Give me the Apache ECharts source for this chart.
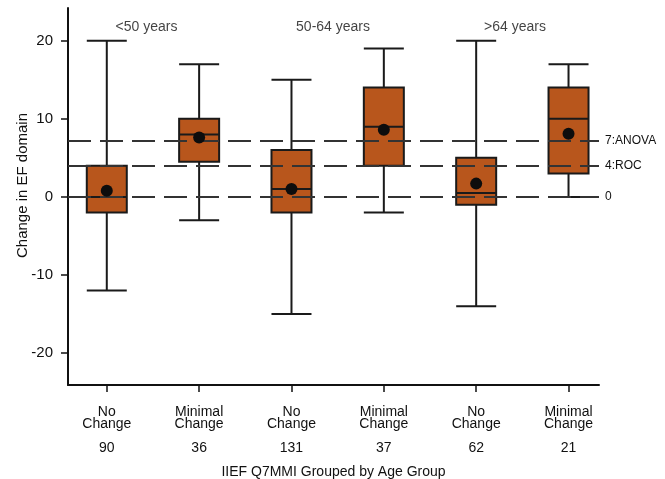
<!DOCTYPE html>
<html>
<head>
<meta charset="utf-8">
<script src="https://cdn.jsdelivr.net/npm/echarts@6/dist/echarts.min.js"></script>
<style>
  html, body { margin: 0; padding: 0; background: #fff; }
  #chart { width: 665px; height: 479px; }
</style>
</head>
<body>
<div id="chart"></div>
<script>
// Groups along the x axis
const statusLabels = ['No\nChange', 'Minimal\nChange', 'No\nChange', 'Minimal\nChange', 'No\nChange', 'Minimal\nChange'];
const counts = [90, 36, 131, 37, 62, 21];

// Box stats: [min, Q1, median, Q3, max]
const boxStats = [
  [-12, -2, 0, 4, 20],
  [-3, 4.5, 8, 10, 17],
  [-15, -2, 1, 6, 15],
  [-2, 4, 9, 14, 19],
  [-14, -1, 0.5, 5, 20],
  [0, 3, 10, 14, 17]
];
const means = [0.8, 7.6, 1.0, 8.6, 1.7, 8.1];

// Age group headings
const ageGroups = ['<50 years', '50-64 years', '>64 years'];
const ageGroupPos = [0.43, 2.45, 4.42];

// Reference lines
const refValues = [7.2, 4, 0];
const refNames = ['7:ANOVA', '4:ROC', '0'];

const yTicks = [-20, -10, 0, 10, 20];

const chart = echarts.init(document.getElementById('chart'));

const textColor = '#111';
const font = 'Liberation Sans, Arial, sans-serif';

const option = {
  animation: false,
  backgroundColor: '#fff',
  textStyle: { fontFamily: font },
  grid: {
    left: 68,
    right: 66,
    top: 8,
    bottom: 94,
    outerBoundsMode: 'none'
  },
  xAxis: {
    type: 'value',
    min: -0.42,
    max: 5.33,
    name: 'IIEF Q7MMI Grouped by Age Group',
    nameLocation: 'middle',
    nameGap: 80,
    nameTextStyle: { color: textColor, fontSize: 14, fontFamily: font },
    splitLine: { show: false },
    axisLine: { show: true, onZero: false, lineStyle: { color: '#111', width: 2 } },
    axisTick: {
      show: true,
      length: 7,
      customValues: [0, 1, 2, 3, 4, 5],
      lineStyle: { color: '#111', width: 1.5 }
    },
    axisLabel: {
      customValues: [0, 1, 2, 3, 4, 5],
      margin: 21,
      color: textColor,
      fontSize: 14,
      lineHeight: 12,
      fontFamily: font,
      formatter: (v) => {
        const i = Math.round(v);
        return statusLabels[i] + '\n\n' + counts[i];
      }
    }
  },
  yAxis: {
    type: 'value',
    min: -24.1,
    max: 24.2,
    name: 'Change in EF domain',
    nameLocation: 'middle',
    nameGap: 38,
    nameMoveOverlap: false,
    nameTextStyle: { color: textColor, fontSize: 15, fontFamily: font, padding: [0, 0, 0, 22] },
    splitLine: { show: false },
    axisLine: { show: true, onZero: false, lineStyle: { color: '#111', width: 2 } },
    axisTick: {
      show: true,
      length: 7,
      customValues: yTicks,
      lineStyle: { color: '#111', width: 1.5 }
    },
    axisLabel: {
      customValues: yTicks,
      margin: 15,
      color: textColor,
      fontSize: 15,
      fontFamily: font
    }
  },
  series: [
    {
      type: 'boxplot',
      boxWidth: [40, 40],
      itemStyle: {
        color: '#B8561C',
        borderColor: '#1a1a1a',
        borderWidth: 2
      },
      data: boxStats.map((s, i) => [i].concat(s)),
      z: 3
    },
    {
      type: 'scatter',
      symbol: 'circle',
      symbolSize: 12,
      itemStyle: { color: '#0d0d0d', opacity: 1 },
      data: means.map((m, i) => [i, m]),
      z: 5
    },
    {
      type: 'scatter',
      symbolSize: 0,
      silent: true,
      data: ageGroups.map((g, i) => ({ value: [ageGroupPos[i], 21.7], name: g })),
      label: {
        show: true,
        position: 'inside',
        formatter: (p) => p.name,
        color: textColor,
        fontSize: 14,
        fontFamily: font
      },
      markLine: {
        silent: true,
        symbol: 'none',
        lineStyle: { color: '#333', width: 2, type: [23, 9] },
        label: {
          show: true,
          position: 'end',
          distance: 6,
          color: textColor,
          fontSize: 12,
          fontFamily: font,
          formatter: (p) => p.name
        },
        data: refValues.map((v, i) => ({ yAxis: v, name: refNames[i] }))
      },
      z: 2
    }
  ]
};

chart.setOption(option);
</script>
</body>
</html>
